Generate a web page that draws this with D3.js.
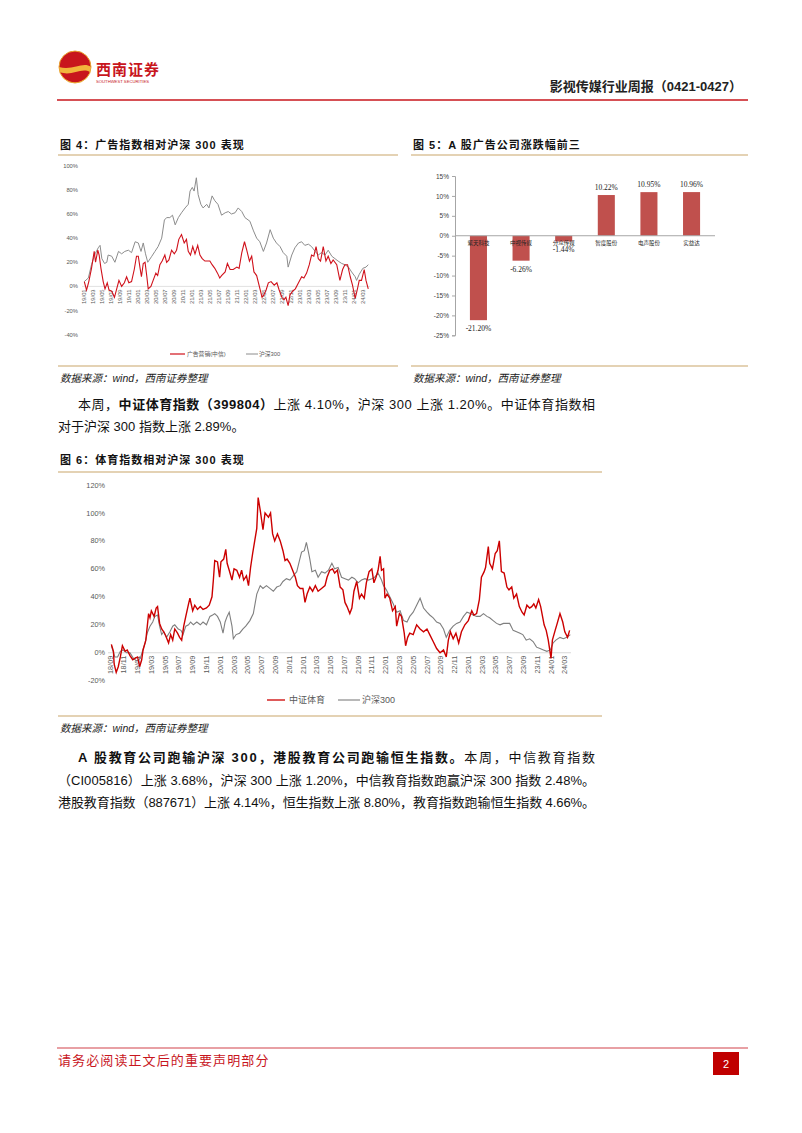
<!DOCTYPE html>
<html><head><meta charset="utf-8">
<script src="https://cdn.jsdelivr.net/npm/d3@7"></script>
<style>
body{margin:0;background:#fff}
svg{display:block}
</style></head><body>
<script>
// ---- chart 4: 广告营销(中信) vs 沪深300, x = months since 19/01, y = %
const ad4 = [[0,4],[0.5,-3],[1.0,4],[1.6,15],[2.2,29],[2.5,20],[3.0,30],[3.3,26],[3.7,15],[4.2,4],[4.6,-2],[5.1,3],[5.5,-3],[6.1,-4],[6.7,-9],[7.2,-2],[7.7,5],[8.3,0],[8.9,3],[9.4,8],[9.9,3],[10.5,4],[11.1,14],[11.6,25],[12.0,25],[12.4,15],[12.7,8],[13.1,19],[13.5,20],[13.9,8],[14.2,-2],[14.8,0],[15.3,5],[15.9,11],[16.3,9],[16.8,18],[17.3,21],[17.9,26],[18.3,20],[18.8,22],[19.4,30],[20.0,27],[20.5,30],[21.0,39],[21.6,43],[22.2,36],[22.7,39],[23.1,29],[23.6,26],[24.1,33],[24.6,27],[25.2,34],[25.7,26],[26.2,23],[26.8,21],[27.4,21],[27.9,21],[28.4,18],[29.0,15],[29.6,11],[30.1,7],[30.5,9],[31.3,12],[31.8,19],[32.4,14],[33.1,14],[33.9,16],[34.4,15],[35.0,28],[35.6,37],[36.1,30],[36.7,21],[37.2,25],[37.7,12],[38.3,9],[38.9,0],[39.5,-9],[39.9,-7],[40.4,-3],[40.9,3],[41.5,4],[42.2,1],[42.8,3],[43.3,-3],[43.9,-9],[44.4,-11],[44.8,-9],[45.3,-16],[45.7,-7],[46.3,-4],[46.9,-2],[47.6,3],[48.3,8],[48.8,7],[49.4,11],[50.0,18],[50.5,26],[51.0,25],[51.5,33],[52.0,23],[52.5,21],[53.1,33],[53.7,21],[54.2,25],[54.8,19],[55.3,22],[56.1,18],[56.8,5],[57.4,14],[57.9,18],[58.5,18],[59.1,8],[59.6,1],[60.2,-10],[60.7,-2],[61.1,5],[61.6,5],[62.2,14],[62.6,5],[63.1,-2]];
const hs4 = [[0,4],[0.9,7],[1.6,18],[2.4,27],[3.1,32],[3.5,34],[3.9,23],[4.5,19],[5.0,20],[5.3,26],[6.1,25],[6.8,20],[7.6,29],[8.3,27],[9.0,29],[9.8,30],[10.5,28],[11.3,37],[12.0,36],[12.6,29],[13.1,36],[13.6,27],[14.1,20],[15.0,25],[15.7,29],[16.4,33],[17.2,40],[17.8,55],[18.3,57],[19.0,57],[19.6,59],[20.2,51],[20.9,57],[21.6,61],[22.4,65],[23.1,68],[23.5,79],[24.0,82],[24.4,79],[24.9,90],[25.3,76],[25.9,68],[26.4,65],[27.2,68],[27.7,65],[28.4,75],[29.0,71],[29.7,68],[30.5,59],[31.3,61],[32.0,62],[32.7,60],[33.5,61],[34.2,65],[35.0,62],[35.7,57],[36.8,54],[37.6,46],[38.3,40],[39.0,37],[39.8,29],[40.5,36],[41.3,47],[42.0,40],[42.7,36],[43.5,33],[44.2,28],[45.0,25],[45.3,16],[46.1,26],[46.8,32],[47.6,36],[48.3,37],[49.0,34],[49.8,35],[50.5,33],[51.3,29],[52.0,26],[52.7,28],[53.5,26],[54.2,30],[55.0,25],[55.7,23],[56.4,21],[57.2,19],[57.9,18],[58.7,16],[59.4,12],[60.2,8],[60.5,5],[61.1,10],[61.9,15],[62.6,16],[63.1,18]];
const ticks4 = ["19/01","19/03","19/05","19/07","19/09","19/11","20/01","20/03","20/05","20/07","20/09","20/11","21/01","21/03","21/05","21/07","21/09","21/11","22/01","22/03","22/05","22/07","22/09","22/11","23/01","23/03","23/05","23/07","23/09","23/11","24/01","24/03"];
const yTicks4 = [100,80,60,40,20,0,-20,-40];
const legend4 = ["广告营销(中信)","沪深300"];

// ---- chart 5: A股广告公司涨跌幅前三
const names5 = ["紫天科技","中视传媒","分众传媒","智度股份","电声股份","实益达"];
const values5 = [-21.20,-6.26,-1.44,10.22,10.95,10.96];
const yTicks5 = [15,10,5,0,-5,-10,-15,-20,-25];

// ---- chart 6: 中证体育 vs 沪深300, x = months since 18/09
const sport6 = [[0.2,6],[0.5,1],[0.6,-8],[0.9,-14],[1.2,-10],[1.5,-3],[1.8,5],[2.2,1],[2.5,2],[2.9,-2],[3.3,-5],[3.6,-4],[4.0,-3],[4.3,-10],[4.6,-5],[4.8,2],[5.2,9],[5.6,28],[5.8,25],[6.0,30],[6.4,26],[6.7,32],[6.9,33],[7.2,21],[7.5,17],[7.8,15],[8.1,12],[8.5,7],[8.8,13],[9.1,9],[9.4,17],[9.8,14],[10.1,11],[10.4,9],[10.7,19],[11.0,26],[11.4,35],[11.6,39],[12.0,30],[12.3,34],[12.7,31],[13.1,33],[13.5,31],[14.0,32],[14.4,34],[14.8,40],[15.0,52],[15.2,66],[15.6,65],[15.9,54],[16.1,65],[16.5,67],[16.8,74],[17.0,64],[17.3,59],[17.7,52],[18.0,60],[18.4,59],[18.8,54],[19.1,59],[19.4,52],[19.8,55],[20.1,48],[20.4,61],[20.7,71],[21.0,80],[21.3,89],[21.5,111],[21.8,102],[22.2,88],[22.5,100],[23.0,97],[23.3,100],[23.6,85],[23.9,80],[24.3,85],[24.7,80],[25.1,73],[25.4,66],[25.7,67],[26.1,64],[26.5,59],[26.9,54],[27.2,48],[27.6,46],[28.0,46],[28.3,36],[28.6,42],[29.0,47],[29.4,44],[29.8,48],[30.2,44],[30.7,46],[31.2,48],[31.5,54],[31.9,59],[32.3,60],[32.6,57],[33.0,59],[33.4,47],[33.8,45],[34.1,36],[34.4,33],[34.8,28],[35.1,32],[35.4,44],[35.8,51],[36.2,39],[36.5,42],[36.9,39],[37.2,50],[37.6,58],[38.0,60],[38.3,50],[38.6,54],[38.9,59],[39.2,69],[39.4,59],[39.7,60],[39.9,39],[40.2,42],[40.6,39],[41.0,30],[41.4,33],[41.6,19],[42.0,28],[42.3,26],[42.7,14],[42.9,5],[43.2,11],[43.5,14],[44.0,13],[44.5,20],[45.0,17],[45.5,15],[46.0,17],[46.4,13],[46.9,8],[47.4,3],[47.9,0],[48.4,2],[48.8,-3],[49.1,9],[49.4,15],[49.8,10],[50.2,14],[50.6,7],[51.0,15],[51.5,20],[52.0,23],[52.5,30],[52.8,27],[53.2,28],[53.6,38],[53.9,54],[54.3,58],[54.5,61],[54.9,76],[55.1,64],[55.5,60],[55.9,71],[56.2,73],[56.5,80],[56.8,58],[57.2,57],[57.6,47],[57.9,45],[58.3,47],[58.6,39],[59.0,42],[59.4,33],[59.8,29],[60.1,27],[60.5,34],[60.9,32],[61.2,33],[61.5,35],[61.8,32],[62.2,38],[62.5,33],[63.0,20],[63.3,16],[63.6,9],[64.0,-4],[64.2,9],[64.6,16],[64.9,21],[65.3,28],[65.7,22],[66.0,15],[66.4,11],[66.7,16]];
const hs6 = [[0.2,5],[0.7,-3],[1.1,-3],[1.5,1],[1.9,2],[2.4,0],[2.9,0],[3.4,-4],[3.9,-6],[4.4,-4],[4.7,1],[5.1,7],[5.4,14],[5.8,19],[6.2,22],[6.5,26],[6.9,27],[7.2,19],[7.5,13],[7.8,15],[8.2,11],[8.7,15],[9.1,19],[9.4,20],[9.9,17],[10.3,16],[10.6,13],[11.0,19],[11.4,20],[11.7,22],[12.1,20],[12.6,22],[13.1,20],[13.5,22],[14.0,20],[14.5,26],[14.9,27],[15.2,28],[15.6,26],[16.0,22],[16.4,14],[16.7,22],[17.0,26],[17.3,29],[17.7,19],[17.9,10],[18.3,13],[18.8,14],[19.3,17],[19.7,19],[20.3,23],[20.8,28],[21.3,42],[21.8,48],[22.2,46],[22.7,48],[23.2,46],[23.7,44],[24.2,47],[24.7,48],[25.1,51],[25.6,53],[26.1,52],[26.6,55],[27.1,58],[27.5,66],[27.8,72],[28.2,73],[28.5,79],[28.8,72],[29.0,67],[29.3,58],[29.8,59],[30.2,54],[30.7,58],[31.2,57],[31.7,59],[32.2,64],[32.6,60],[33.1,61],[33.6,54],[34.1,53],[34.6,52],[35.1,54],[35.5,53],[36.0,50],[36.5,52],[37.0,53],[37.5,52],[38.0,53],[38.4,54],[38.9,57],[39.4,52],[39.7,48],[40.1,45],[40.6,40],[41.1,35],[41.6,29],[42.1,30],[42.6,23],[43.1,22],[43.5,26],[44.0,29],[44.5,34],[45.0,39],[45.5,32],[46.0,29],[46.4,27],[46.9,25],[47.4,22],[47.9,21],[48.4,17],[48.8,11],[49.3,16],[49.8,19],[50.3,21],[50.8,22],[51.3,26],[51.8,29],[52.3,28],[52.7,27],[53.2,26],[53.7,26],[54.2,28],[54.7,26],[55.1,25],[55.6,23],[56.1,21],[56.6,20],[57.1,21],[57.6,21],[58.0,21],[58.5,16],[59.0,15],[59.5,14],[59.9,13],[60.4,9],[60.9,10],[61.4,8],[61.9,4],[62.4,3],[62.9,2],[63.4,1],[63.9,2],[64.3,7],[64.7,9],[65.3,11],[65.8,10],[66.3,11],[66.8,13]];
const ticks6 = ["18/09","18/11","19/01","19/03","19/05","19/07","19/09","19/11","20/01","20/03","20/05","20/07","20/09","20/11","21/01","21/03","21/05","21/07","21/09","21/11","22/01","22/03","22/05","22/07","22/09","22/11","23/01","23/03","23/05","23/07","23/09","23/11","24/01","24/03"];
const yTicks6 = [120,100,80,60,40,20,0,-20];
const legend6 = ["中证体育","沪深300"];

const W = 802, H = 1133
const CJK = '"Liberation Sans","Noto Sans CJK SC",sans-serif'
const GOLD = '#c9a66b'

const svg = d3.select('body').append('svg')
    .attr('width', W).attr('height', H)
    .style('font-family', CJK)
svg.append('rect').attr('width', W).attr('height', H).attr('fill', '#fff')

// ---------- header ----------
let logo = svg.append('g').attr('transform', 'translate(75,67)')
logo.append('circle').attr('r', 16).attr('fill', '#f2b53c')
logo.append('path').attr('d', 'M-16,0 A16,16 0 0 1 16,0 C8,-6 -2,4 -16,0 Z').attr('fill', '#c8161d')
logo.append('path').attr('d', 'M-15,5 C-4,10 6,0 15,5 A16,16 0 0 1 -15,5 Z').attr('fill', '#c8161d')
logo.append('circle').attr('r', 16).attr('fill', 'none').attr('stroke', '#e9a534').attr('stroke-width', 1)
svg.append('text').attr('x', 96).attr('y', 75).text('西南证券')
    .attr('font-size', 15).attr('font-weight', 'bold').attr('fill', '#c8161d').attr('letter-spacing', 1)
svg.append('text').attr('x', 96).attr('y', 83).text('SOUTHWEST SECURITIES')
    .attr('font-size', 4.2).attr('fill', '#c8161d')
svg.append('text').attr('x', 742).attr('y', 91).attr('text-anchor', 'end')
    .text('影视传媒行业周报（0421-0427）').attr('font-size', 13).attr('font-weight', 'bold').attr('fill', '#222')
svg.append('line').attr('x1', 57).attr('x2', 748).attr('y1', 100).attr('y2', 100)
    .attr('stroke', '#c8161d').attr('stroke-width', 1.5)

// ---------- footer ----------
svg.append('line').attr('x1', 57).attr('x2', 748).attr('y1', 1048).attr('y2', 1048)
    .attr('stroke', '#d2424a').attr('stroke-width', 1.2)
svg.append('text').attr('x', 58).attr('y', 1065).text('请务必阅读正文后的重要声明部分')
    .attr('font-size', 13).attr('letter-spacing', 1.1).attr('fill', '#c8161d')
svg.append('rect').attr('x', 713).attr('y', 1052).attr('width', 26).attr('height', 23).attr('fill', '#c00000')
svg.append('text').attr('x', 726).attr('y', 1068).attr('text-anchor', 'middle').text('2')
    .attr('font-size', 11).attr('fill', '#fff')

// ---------- shared pieces ----------
function title(x, y, txt){
    svg.append('text').attr('x', x).attr('y', y).text(txt)
        .attr('font-size', 11).attr('letter-spacing', 1).attr('font-weight', 'bold').attr('fill', '#111')
}
function rule(x1, x2, y){
    svg.append('line').attr('x1', x1).attr('x2', x2).attr('y1', y).attr('y2', y)
        .attr('stroke', GOLD).attr('stroke-width', 1.2)
}
function source(x, y){
    svg.append('text').attr('x', x).attr('y', y).text('数据来源：wind，西南证券整理')
        .attr('font-size', 10.5).attr('font-style', 'italic').attr('fill', '#222')
}

// ---------- chart 4 ----------
title(60, 149, '图 4：广告指数相对沪深 300 表现')
rule(58, 398, 155)
rule(58, 398, 366)
source(60, 382)

let x4 = d3.scaleLinear().domain([0, 63.2]).range([84.3, 368.7])
let y4 = d3.scaleLinear().domain([-40, 100]).range([334.7, 165.7])
let g4 = svg.append('g')
g4.append('line').attr('x1', 82).attr('x2', 370).attr('y1', y4(0)).attr('y2', y4(0))
    .attr('stroke', '#d9d9d9').attr('stroke-width', 0.8)
g4.selectAll('.yt').data(yTicks4).enter().append('text')
    .attr('x', 78).attr('y', d => y4(d)).attr('dy', '0.35em').attr('text-anchor', 'end')
    .attr('font-size', 5.8).attr('fill', '#595959').text(d => d + '%')
g4.selectAll('.xt').data(ticks4).enter().append('text')
    .attr('transform', (d, i) => 'translate(' + x4(i * 2) + ',' + (y4(0) + 3) + ') rotate(-90)')
    .attr('dy', '0.35em').attr('text-anchor', 'end')
    .attr('font-size', 5.8).attr('fill', '#595959').text(d => d)
let line4 = d3.line().x(d => x4(d[0])).y(d => y4(d[1]))
g4.append('path').attr('d', line4(hs4)).attr('fill', 'none').attr('stroke', '#8c8c8c').attr('stroke-width', 1)
g4.append('path').attr('d', line4(ad4)).attr('fill', 'none').attr('stroke', '#d0111b').attr('stroke-width', 1.1)
// legend
g4.append('line').attr('x1', 170).attr('x2', 185).attr('y1', 354).attr('y2', 354).attr('stroke', '#d0111b').attr('stroke-width', 1.2)
g4.append('text').attr('x', 187).attr('y', 354).attr('dy', '0.35em').attr('font-size', 5.8).attr('fill', '#595959').text(legend4[0])
g4.append('line').attr('x1', 246).attr('x2', 258).attr('y1', 354).attr('y2', 354).attr('stroke', '#8c8c8c').attr('stroke-width', 1)
g4.append('text').attr('x', 259).attr('y', 354).attr('dy', '0.35em').attr('font-size', 5.8).attr('fill', '#595959').text(legend4[1])

// ---------- chart 5 ----------
title(413, 149, '图 5：A 股广告公司涨跌幅前三')
rule(411, 748, 155)
rule(411, 748, 366)
source(413, 382)

let x5 = d3.scaleBand().domain(names5).range([455, 715]).paddingInner(0.6).paddingOuter(0.35)
let y5 = d3.scaleLinear().domain([-25, 15]).range([335.3, 176])
let g5 = svg.append('g')
g5.append('g').attr('transform', 'translate(455,0)')
    .call(d3.axisLeft(y5).tickValues(yTicks5).tickSize(3).tickFormat(d => d + '%'))
    .call(a => a.select('.domain').attr('stroke', '#a6a6a6'))
    .call(a => a.selectAll('.tick line').attr('stroke', '#a6a6a6'))
    .call(a => a.selectAll('text').attr('font-size', 6.5).attr('fill', '#404040')
        .attr('font-family', '"Liberation Sans",sans-serif'))
g5.selectAll('.bar').data(values5).enter().append('rect')
    .attr('x', (d, i) => x5(names5[i])).attr('width', x5.bandwidth())
    .attr('y', d => y5(Math.max(0, d))).attr('height', d => Math.abs(y5(d) - y5(0)))
    .attr('fill', '#c0504d')
g5.append('line').attr('x1', 455).attr('x2', 715).attr('y1', y5(0)).attr('y2', y5(0))
    .attr('stroke', '#a6a6a6').attr('stroke-width', 1)
g5.selectAll('.cat').data(names5).enter().append('text')
    .attr('x', d => x5(d) + x5.bandwidth() / 2).attr('y', y5(0) + 9)
    .attr('text-anchor', 'middle').attr('font-size', 5.5).attr('fill', '#222').text(d => d)
g5.selectAll('.val').data(values5).enter().append('text')
    .attr('x', (d, i) => x5(names5[i]) + x5.bandwidth() / 2)
    .attr('y', d => d >= 0 ? y5(d) - 5 : y5(d) + 11)
    .attr('text-anchor', 'middle').attr('font-size', 7.5).attr('fill', '#222')
    .attr('font-family', '"Liberation Serif",serif').text(d => d.toFixed(2) + '%')

// ---------- paragraph 1 ----------
function para(x, y, len, parts){
    let t = svg.append('text').attr('x', x).attr('y', y).attr('font-size', 13).attr('fill', '#111')
    if (len) t.attr('textLength', len).attr('lengthAdjust', 'spacing')
    parts.forEach(p => t.append('tspan').text(p[0]).attr('font-weight', p[1] ? 'bold' : 'normal'))
}
para(78, 409, 517, [['本周，', 0], ['中证体育指数（399804）', 1], ['上涨 4.10%，沪深 300 上涨 1.20%。中证体育指数相', 0]])
para(58, 431, 0, [['对于沪深 300 指数上涨 2.89%。', 0]])

// ---------- chart 6 ----------
title(60, 464, '图 6：体育指数相对沪深 300 表现')
rule(58, 602, 472)
rule(58, 602, 716)
source(60, 732)

let x6 = d3.scaleLinear().domain([0, 66.9]).range([110, 571])
let y6 = d3.scaleLinear().domain([-20, 120]).range([680.7, 485])
let g6 = svg.append('g')
g6.append('line').attr('x1', 108).attr('x2', 571).attr('y1', y6(0)).attr('y2', y6(0))
    .attr('stroke', '#d9d9d9').attr('stroke-width', 1)
g6.selectAll('.yt').data(yTicks6).enter().append('text')
    .attr('x', 105).attr('y', d => y6(d)).attr('dy', '0.35em').attr('text-anchor', 'end')
    .attr('font-size', 7.3).attr('fill', '#595959').text(d => d + '%')
g6.selectAll('.xt').data(ticks6).enter().append('text')
    .attr('transform', (d, i) => 'translate(' + x6(i * 2) + ',' + (y6(0) + 3) + ') rotate(-90)')
    .attr('dy', '0.35em').attr('text-anchor', 'end')
    .attr('font-size', 7.3).attr('fill', '#595959').text(d => d)
let line6 = d3.line().x(d => x6(d[0])).y(d => y6(d[1]))
g6.append('path').attr('d', line6(hs6)).attr('fill', 'none').attr('stroke', '#7f7f7f').attr('stroke-width', 1.1)
g6.append('path').attr('d', line6(sport6)).attr('fill', 'none').attr('stroke', '#cc0000').attr('stroke-width', 1.4)
g6.append('line').attr('x1', 267).attr('x2', 285).attr('y1', 700).attr('y2', 700).attr('stroke', '#cc0000').attr('stroke-width', 1.3)
g6.append('text').attr('x', 289).attr('y', 700).attr('dy', '0.35em').attr('font-size', 9).attr('fill', '#595959').text(legend6[0])
g6.append('line').attr('x1', 338).attr('x2', 360).attr('y1', 700).attr('y2', 700).attr('stroke', '#7f7f7f').attr('stroke-width', 1.1)
g6.append('text').attr('x', 362).attr('y', 700).attr('dy', '0.35em').attr('font-size', 9).attr('fill', '#595959').text(legend6[1])

// ---------- paragraph 2 ----------
para(78, 762, 517, [['A 股教育公司跑输沪深 300，港股教育公司跑输恒生指数。', 1], ['本周，中信教育指数', 0]])
para(58, 785, 537, [['（CI005816）上涨 3.68%，沪深 300 上涨 1.20%，中信教育指数跑赢沪深 300 指数 2.48%。', 0]])
para(58, 807, 537, [['港股教育指数（887671）上涨 4.14%，恒生指数上涨 8.80%，教育指数跑输恒生指数 4.66%。', 0]])
</script>
</body></html>
